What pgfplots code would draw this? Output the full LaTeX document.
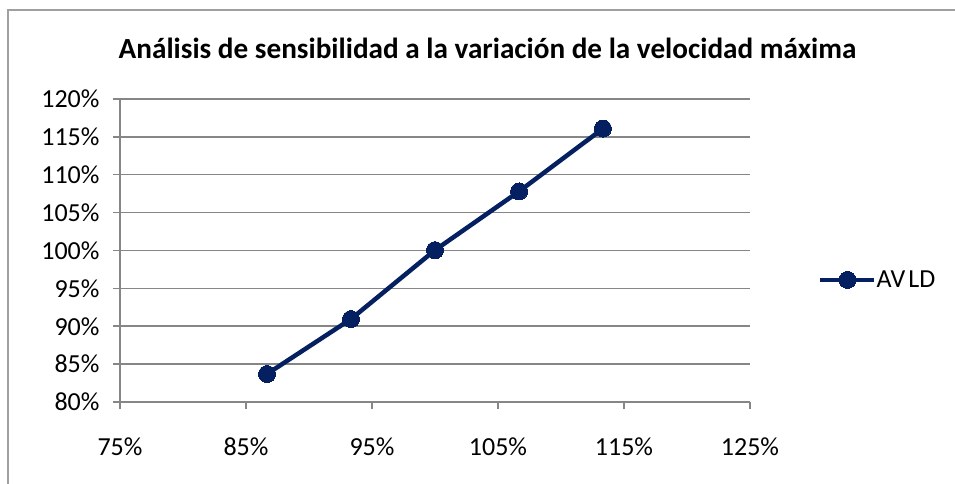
\documentclass[border=0pt]{standalone}
\usepackage{fontspec}
\setmainfont{Carlito}
\usepackage{pgfplots}
\pgfplotsset{compat=1.18}
\definecolor{navy}{RGB}{4,32,96}
\definecolor{gridg}{RGB}{134,134,134}
\definecolor{frameg}{RGB}{160,160,160}
\begin{document}
\begin{tikzpicture}[x=1pt,y=1pt]
\useasboundingbox (-120,-82) rectangle (835,402);
\draw[frameg, line width=1.5pt] (-112,-100) -- (-112,392) -- (900,392);
\node[font=\fontsize{29.2}{34}\selectfont\bfseries, anchor=base] at (367.5,343) {Análisis de sensibilidad a la variación de la velocidad máxima};
\begin{axis}[
  at={(0,0)}, anchor=south west,
  scale only axis, width=630pt, height=303pt,
  xmin=75, xmax=125, ymin=80, ymax=120,
  xtick={75,85,...,125}, ytick={80,85,...,120},
  xticklabel={\pgfmathprintnumber{\tick}\%},
  yticklabel={\pgfmathprintnumber{\tick}\%},
  /pgf/number format/assume math mode=true,
  ticklabel style={font=\fontsize{26}{30}\selectfont},
  axis x line=bottom, axis y line=left,
  axis line style={-, gridg, line width=2pt},
  tick align=outside, major tick length=7pt,
  tick style={gridg, line width=1.5pt},
  ymajorgrids, major grid style={gridg, line width=1.5pt},
  xticklabel style={yshift=-25pt},
  yticklabel style={xshift=-10pt},
  clip=false,
  legend style={at={(1.108,0.403)}, anchor=west, draw=none, fill=none,
    font=\fontsize{26}{30}\selectfont, inner sep=0pt,
    nodes={inner sep=0pt, anchor=west, xshift=6pt}},
  legend image code/.code={
    \draw[#1, mark repeat=2, mark phase=2] plot coordinates {(0pt,0pt) (27pt,0pt) (54pt,0pt)};
  },
]
\addplot[navy, line width=4.5pt, mark=*, mark size=8.5pt, mark options={solid, fill=navy, line width=0pt}]
  coordinates {(86.67,83.7) (93.33,90.95) (100,100.05) (106.67,107.8) (113.33,116.1)};
\addlegendentry{AV\kern3pt LD}
\end{axis}
\end{tikzpicture}
\end{document}
